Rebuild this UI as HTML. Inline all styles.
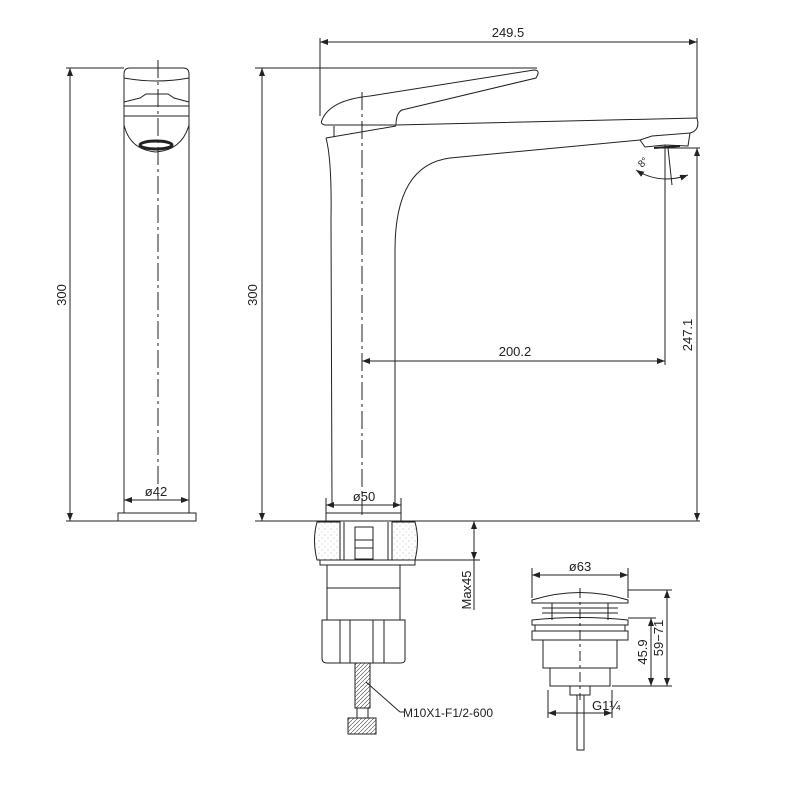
<!DOCTYPE html><html><head><style>body{margin:0;background:#fff}svg{display:block}text{font-family:"Liberation Sans",sans-serif;fill:#222}</style></head><body>
<svg width="800" height="800" viewBox="0 0 800 800" xmlns="http://www.w3.org/2000/svg">
<defs><marker id="a" markerWidth="8" markerHeight="6" refX="8" refY="3" orient="auto-start-reverse"><path d="M0,0L8,3L0,6z" fill="#222"/></marker>
<pattern id="h" width="4" height="4" patternUnits="userSpaceOnUse"><path d="M0,4L4,0" stroke="#444" stroke-width="0.6"/></pattern>
<pattern id="s" width="6" height="6" patternUnits="userSpaceOnUse"><circle cx="1" cy="1" r="0.5" fill="#999"/><circle cx="4" cy="4" r="0.5" fill="#bbb"/></pattern></defs>
<g stroke="#222" stroke-width="1" fill="none">
<line x1="66" y1="68" x2="124" y2="68"/><line x1="66" y1="521" x2="118" y2="521"/>
<line x1="70" y1="68" x2="70" y2="521" marker-start="url(#a)" marker-end="url(#a)"/>
<path d="M124,74 Q124,68 130,68 L183,68 Q189,68 189,74 L189,513 L124,513 Z"/>
<path d="M124,78 Q156,84 189,78"/><path d="M124,102 L140,98 L146,94 L168,94 L174,98 L189,102"/><path d="M124,106 L189,106"/><path d="M124,116 L189,116"/>
<path d="M124,125 Q130,150 156,152 Q182,150 189,125"/>
<ellipse cx="156" cy="145" rx="16" ry="4" stroke-width="3"/>
<rect x="118" y="513" width="78" height="8"/>
<line x1="158" y1="60" x2="158" y2="500" stroke-dasharray="18,4,3,4"/>
<line x1="124" y1="500" x2="189" y2="500" marker-start="url(#a)" marker-end="url(#a)"/>
<line x1="255" y1="68" x2="537" y2="68"/>
<line x1="262" y1="68" x2="262" y2="521" marker-start="url(#a)" marker-end="url(#a)"/>
<line x1="255" y1="521" x2="700" y2="521"/>
<line x1="320" y1="38" x2="320" y2="116"/><line x1="697" y1="38" x2="697" y2="118"/>
<line x1="320" y1="42" x2="697" y2="42" marker-start="url(#a)" marker-end="url(#a)"/>
<line x1="665" y1="145" x2="665" y2="365"/><line x1="660" y1="148" x2="700" y2="148"/>
<line x1="697" y1="148" x2="697" y2="521" marker-start="url(#a)" marker-end="url(#a)"/>
<line x1="362" y1="361" x2="665" y2="361" marker-start="url(#a)" marker-end="url(#a)"/>
<line x1="362" y1="92" x2="362" y2="515" stroke-dasharray="18,4,3,4"/>
<path d="M322,120 Q330,100 370,96 L534,70 Q541,70 536,78 L402,110 Q396,113 396,125 L325,125 Q320,124 322,120 Z"/>
<path d="M334,126 L334,137 M396,125 L697,118 Q700,128 693,132 L690,133"/>
<path d="M326,138 L396,126"/>
<path d="M326,138 Q332,160 331,220 L332,505 M395,505 L395,250 Q395,165 450,158 L640,140"/>
<path d="M640,140 L652,136 L690,133 L688,146 L665,145 L645,147 Z"/>
<line x1="654" y1="148" x2="680" y2="146" stroke-width="2"/>
<path d="M636,170 Q660,185 688,175" marker-start="url(#a)" marker-end="url(#a)"/>
<line x1="668" y1="148" x2="672" y2="185"/>
<rect x="326" y="513" width="75" height="8"/>
<line x1="326" y1="505" x2="401" y2="505" marker-start="url(#a)" marker-end="url(#a)"/>
<line x1="326" y1="498" x2="326" y2="513"/><line x1="401" y1="498" x2="401" y2="513"/>
<path d="M317,522 L340,522 L340,560 L317,560 Q312,540 317,522Z" fill="url(#s)"/>
<path d="M392,522 L415,522 Q420,540 415,560 L392,560Z" fill="url(#s)"/>
<line x1="344" y1="522" x2="344" y2="560"/><line x1="388" y1="522" x2="388" y2="560"/>
<rect x="355" y="527" width="18" height="32"/><line x1="355" y1="540" x2="373" y2="540"/><line x1="355" y1="548" x2="373" y2="548"/>
<rect x="320" y="560" width="95" height="5"/>
<rect x="327" y="565" width="73" height="55"/><line x1="327" y1="588" x2="400" y2="588"/>
<path d="M322,620 L405,620 L405,660 Q405,663 400,663 L327,663 Q322,663 322,658 Z"/>
<path d="M340,620 L340,663 M350,620 L350,663 M373,620 L373,663 M384,620 L384,663"/>
<rect x="355" y="663" width="15" height="45" fill="url(#h)"/>
<rect x="357" y="708" width="11" height="10"/>
<rect x="348" y="718" width="28" height="16" fill="url(#h)"/>
<line x1="366" y1="682" x2="400" y2="712"/><line x1="400" y1="712" x2="404" y2="712"/>
<line x1="415" y1="560" x2="480" y2="560"/>
<line x1="474" y1="521" x2="474" y2="560" marker-start="url(#a)" marker-end="url(#a)"/>
<line x1="474" y1="560" x2="474" y2="610"/>
<path d="M532,600 Q580,585 628,600 L628,603 L532,603 Z"/>
<path d="M542,608 L618,608 M542,613 L618,613 M552,603 L552,620 M608,603 L608,620"/>
<path d="M532,620 Q580,615 628,620 L628,625 L532,625Z"/>
<rect x="535" y="625" width="90" height="6"/><rect x="532" y="631" width="96" height="9"/>
<rect x="543" y="640" width="74" height="28"/><rect x="550" y="668" width="60" height="18"/>
<rect x="570" y="686" width="20" height="9"/>
<rect x="577" y="695" width="7" height="55"/>
<line x1="580" y1="588" x2="580" y2="700" stroke-dasharray="10,4,3,4"/>
<line x1="532" y1="568" x2="532" y2="598"/><line x1="628" y1="568" x2="628" y2="598"/>
<line x1="532" y1="575" x2="628" y2="575" marker-start="url(#a)" marker-end="url(#a)"/>
<line x1="628" y1="590" x2="672" y2="590"/><line x1="628" y1="618" x2="656" y2="618"/><line x1="612" y1="686" x2="672" y2="686"/>
<line x1="651" y1="618" x2="651" y2="686" marker-start="url(#a)" marker-end="url(#a)"/>
<line x1="667" y1="590" x2="667" y2="686" marker-start="url(#a)" marker-end="url(#a)"/>
<line x1="548" y1="690" x2="548" y2="718"/><line x1="612" y1="690" x2="612" y2="718"/>
<line x1="548" y1="713" x2="612" y2="713" marker-start="url(#a)" marker-end="url(#a)"/>
</g>
<g font-size="13">
<text x="508" y="37" text-anchor="middle">249.5</text>
<text x="515" y="356" text-anchor="middle">200.2</text>
<text transform="translate(66,295) rotate(-90)" text-anchor="middle">300</text>
<text transform="translate(257,295) rotate(-90)" text-anchor="middle">300</text>
<text transform="translate(692,335) rotate(-90)" text-anchor="middle">247.1</text>
<text x="156" y="496" text-anchor="middle">ø42</text>
<text x="364" y="501" text-anchor="middle">ø50</text>
<text x="580" y="571" text-anchor="middle">ø63</text>
<text transform="translate(471,590) rotate(-90)" text-anchor="middle">Max45</text>
<text transform="translate(647,652) rotate(-90)" text-anchor="middle">45.9</text>
<text transform="translate(663,638) rotate(-90)" text-anchor="middle">59−71</text>
<text x="592" y="710">G1¼</text>
<text x="403" y="717" font-family="Liberation Mono" font-size="12">M10X1-F1/2-600</text>
<text transform="translate(642,168) rotate(-45)" font-size="10">8°</text>
</g>
</svg></body></html>
